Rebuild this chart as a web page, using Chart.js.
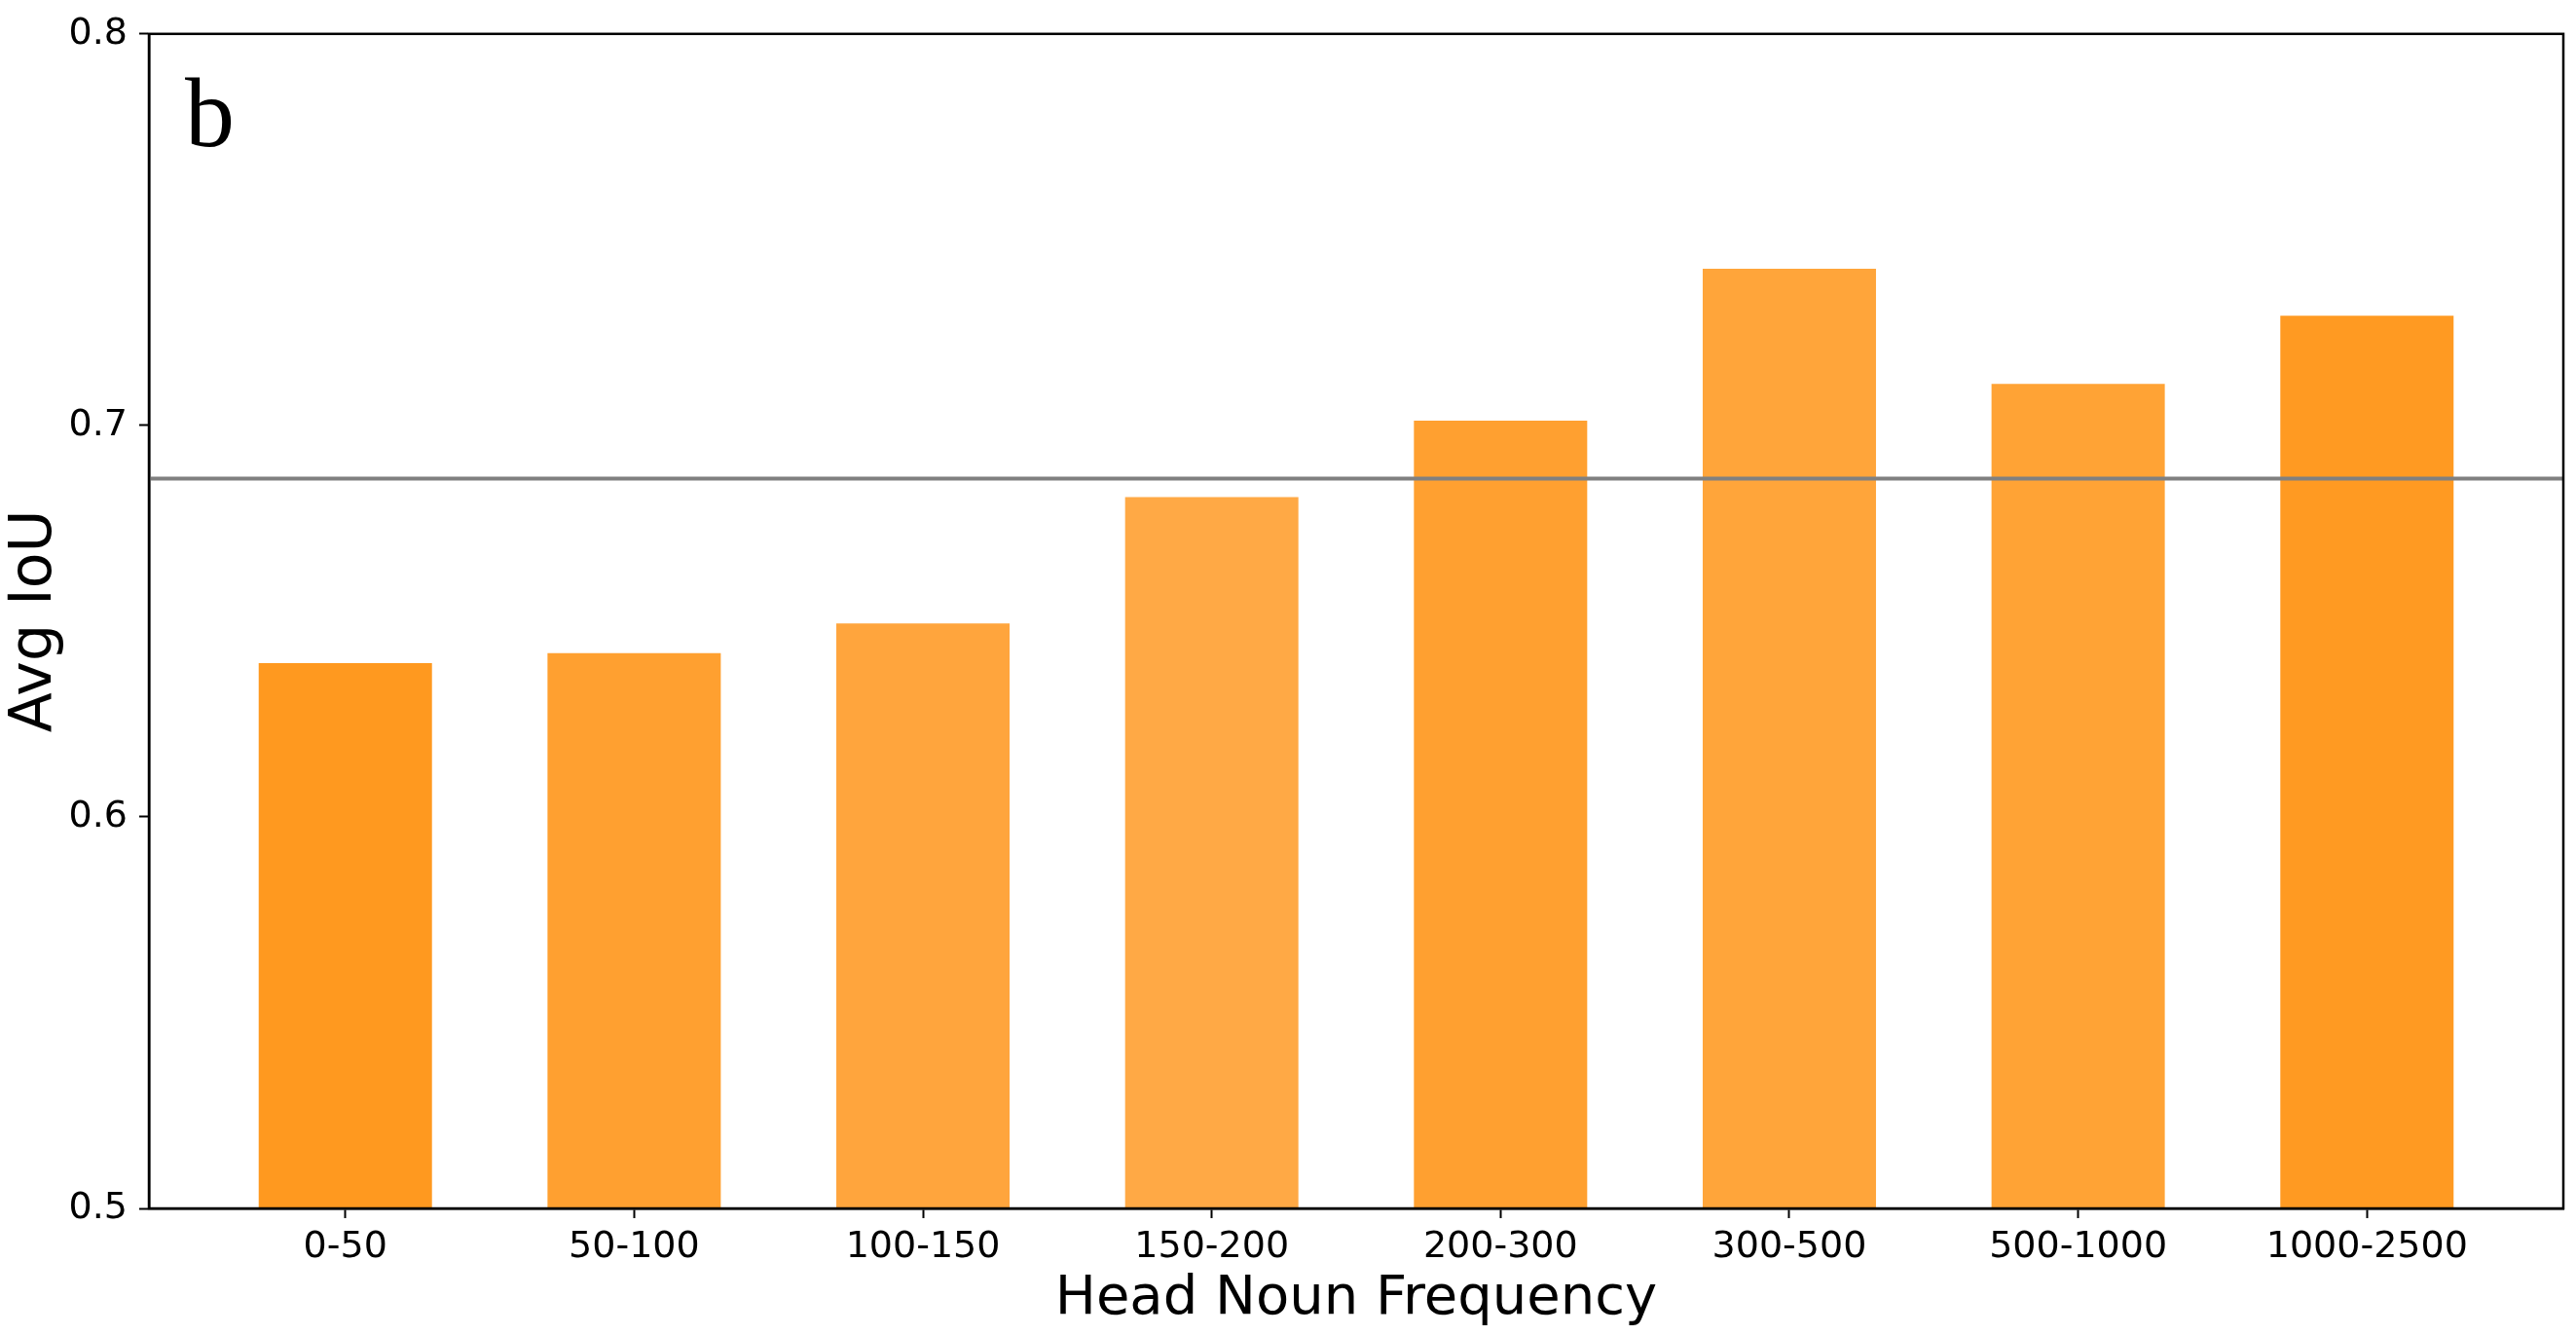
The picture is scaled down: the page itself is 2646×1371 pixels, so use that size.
<!DOCTYPE html>
<html>
<head>
<meta charset="utf-8">
<script src="https://cdn.jsdelivr.net/npm/chart.js@4"></script>
<style>
  html, body { margin: 0; padding: 0; background: #fff; }
  canvas { display: block; }
</style>
</head>
<body>
<canvas id="iouChart" width="2646" height="1371"></canvas>
<script>
const categories = ['0-50', '50-100', '100-150', '150-200', '200-300', '300-500', '500-1000', '1000-2500'];
const avgIoU = [0.6393, 0.6418, 0.6494, 0.6817, 0.7012, 0.7400, 0.7106, 0.7280];
const overallAvg = 0.6864;
const yTicks = [0.5, 0.6, 0.7, 0.8];
const barColors = ['#ff991f', '#ffa030', '#ffa53d', '#ffa945', '#ffa030', '#ffa53a', '#ffa335', '#ff9a22'];

const xMargin = 0.68;

// matplotlib style frame, the reference line and the panel letter
const extras = {
  id: 'extras',
  afterDatasetsDraw(chart) {
    const { ctx, chartArea, scales } = chart;
    const y = scales.y.getPixelForValue(overallAvg);
    ctx.save();
    ctx.strokeStyle = '#808080';
    ctx.lineWidth = 4;
    ctx.beginPath();
    ctx.moveTo(chartArea.left, y);
    ctx.lineTo(chartArea.right, y);
    ctx.stroke();
    ctx.restore();
  },
  afterDraw(chart) {
    const { ctx, chartArea } = chart;
    ctx.save();
    ctx.strokeStyle = '#000';
    ctx.lineWidth = 2.5;
    ctx.strokeRect(chartArea.left, chartArea.top, chartArea.right - chartArea.left, chartArea.bottom - chartArea.top);
    ctx.fillStyle = '#000';
    ctx.font = '102px "Liberation Serif", "DejaVu Serif", serif';
    ctx.textBaseline = 'alphabetic';
    ctx.fillText('b', chartArea.left + 37, chartArea.top + 115);
    ctx.restore();
  }
};

new Chart(document.getElementById('iouChart'), {
  type: 'bar',
  data: {
    datasets: [{
      data: avgIoU.map((v, i) => ({ x: i, y: v })),
      backgroundColor: barColors,
      borderWidth: 0,
      categoryPercentage: 1,
      barPercentage: 0.6
    }]
  },
  options: {
    responsive: false,
    animation: false,
    layout: { padding: { top: 34, right: 13, left: 0, bottom: 0 } },
    plugins: { legend: { display: false }, tooltip: { enabled: false } },
    scales: {
      x: {
        type: 'linear',
        offset: false,
        min: -xMargin,
        max: categories.length - 1 + xMargin,
        afterBuildTicks: scale => { scale.ticks = categories.map((c, i) => ({ value: i })); },
        afterFit: scale => { scale.height = 130; },
        grid: { display: true, offset: false, drawOnChartArea: false, tickLength: 10, tickWidth: 2, tickColor: '#000' },
        border: { display: true, color: '#000', width: 2.5 },
        ticks: {
          autoSkip: false,
          maxRotation: 0,
          color: '#000',
          padding: 7,
          font: { family: '"DejaVu Sans"', size: 38 },
          callback: v => categories[v]
        },
        title: {
          display: true,
          text: 'Head Noun Frequency',
          color: '#000',
          font: { family: '"DejaVu Sans"', size: 56 },
          padding: { top: 0, bottom: 3 }
        }
      },
      y: {
        min: yTicks[0],
        max: yTicks[yTicks.length - 1],
        afterBuildTicks: scale => { scale.ticks = yTicks.map(v => ({ value: v })); },
        afterFit: scale => { scale.width = 153; },
        grid: { display: true, drawOnChartArea: false, tickLength: 10, tickWidth: 2, tickColor: '#000' },
        border: { display: true, color: '#000', width: 2.5 },
        ticks: {
          color: '#000',
          padding: 12,
          font: { family: '"DejaVu Sans"', size: 38 },
          callback: v => v.toFixed(1)
        },
        title: {
          display: true,
          text: 'Avg IoU',
          color: '#000',
          font: { family: '"DejaVu Sans"', size: 60 },
          padding: { top: 0, bottom: 0 }
        }
      }
    }
  },
  plugins: [extras]
});
</script>
</body>
</html>
